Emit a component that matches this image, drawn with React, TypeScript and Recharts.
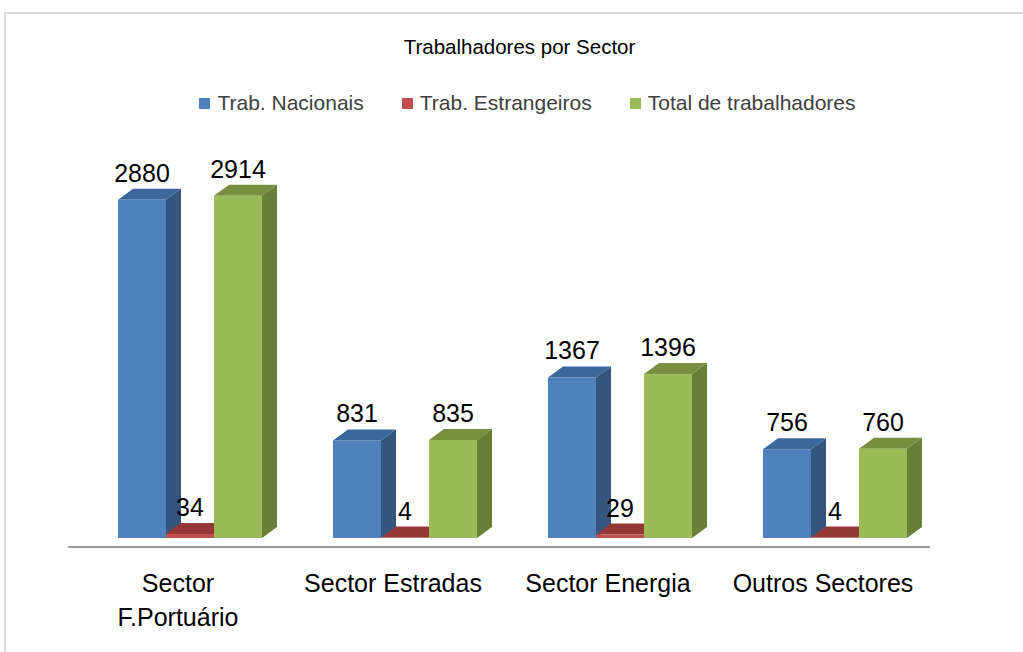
import React from "react";
import { BarChart, Bar, XAxis, YAxis, Legend, LabelList, ReferenceLine } from "recharts";

const categories = ["Sector F.Portuário", "Sector Estradas", "Sector Energia", "Outros Sectores"];
const nacionais = [2880, 831, 1367, 756];
const estrangeiros = [34, 4, 29, 4];
const total = [2914, 835, 1396, 760];
const seriesNames = ["Trab. Nacionais", "Trab. Estrangeiros", "Total de trabalhadores"];

const data = categories.map((c, i) => ({
  name: c,
  nac: nacionais[i],
  est: estrangeiros[i],
  tot: total[i],
}));

const FONT = "'Liberation Sans', Arial, sans-serif";
const DX = 15;
const DY = 11;

const make3D = (front: string, side: string, top: string) => (props: any) => {
  const { x, y, width, height } = props;
  if (x == null || width == null) return <g />;
  const h = Math.max(height || 0, 0);
  const x2 = x + width;
  const yb = y + h;
  return (
    <g>
      <polygon points={`${x},${y} ${x + DX},${y - DY} ${x2 + DX},${y - DY} ${x2},${y}`} fill={top} />
      <polygon points={`${x2},${y} ${x2 + DX},${y - DY} ${x2 + DX},${yb - DY} ${x2},${yb}`} fill={side} />
      <rect x={x} y={y} width={width} height={h} fill={front} />
    </g>
  );
};

const splitLabel = (s: string): string[] => {
  if (s.length <= 16) return [s];
  const i = s.indexOf(" ");
  return i > 0 ? [s.slice(0, i), s.slice(i + 1)] : [s];
};

const CatTick = (props: any) => {
  const { x, y, payload } = props;
  const lines = splitLabel(String(payload.value));
  return (
    <text x={x - 12} y={y + 54} textAnchor="middle" fill="#000" fontFamily={FONT} fontSize={25}>
      {lines.map((l, i) => (
        <tspan key={i} x={x - 12} dy={i === 0 ? 0 : 34}>
          {l}
        </tspan>
      ))}
    </text>
  );
};

const LegendContent = (props: any) => {
  const payload = [...(props.payload || [])].sort(
    (a: any, b: any) => seriesNames.indexOf(a.value) - seriesNames.indexOf(b.value)
  );
  return (
    <div style={{ display: "flex", justifyContent: "center", alignItems: "center", paddingLeft: 32, fontFamily: FONT, fontSize: 21, color: "#404040" }}>
      {payload.map((e: any, i: number) => (
        <div key={i} style={{ display: "flex", alignItems: "center", marginRight: i < 2 ? 38 : 0 }}>
          <div style={{ width: 11, height: 11, background: e.color, marginRight: 7 }} />
          <span>{e.value}</span>
        </div>
      ))}
    </div>
  );
};

const labelStyle = { fontFamily: FONT, fontSize: 25, fill: "#000" };

export default function App() {
  return (
    <div style={{ position: "fixed", left: 0, top: 0, width: 1023, height: 652, overflow: "hidden", background: "#fff" }}>
      <div style={{ position: "absolute", left: 4, top: 12, width: 1100, height: 700, border: "2px solid #d9d9d9", boxSizing: "border-box" }} />
      <div style={{ position: "absolute", left: 8, top: 35, width: 1023, textAlign: "center", fontFamily: FONT, fontSize: 20.5, color: "#000" }}>
        Trabalhadores por Sector
      </div>
      <div style={{ position: "absolute", left: 0, top: 0 }}>
        <BarChart
          width={1023}
          height={652}
          data={data}
          margin={{ top: 127, right: 80.5, left: 82.5, bottom: 34 }}
          barCategoryGap={35.5}
          barGap={0}
        >
          <XAxis
            dataKey="name"
            height={80}
            axisLine={false}
            tickLine={false}
            tickSize={0}
            tickMargin={0}
            interval={0}
            tick={<CatTick />}
          />
          <YAxis hide domain={[0, 3500]} />
          <ReferenceLine
            y={0}
            shape={(p: any) => (
              <line x1={p.x1 - 14.5} y1={p.y1 + 9} x2={p.x2 - 12.5} y2={p.y2 + 9} stroke="#9a9a9a" strokeWidth={2} />
            )}
          />
          <Legend verticalAlign="middle" layout="horizontal" wrapperStyle={{ top: 91, left: 0, width: 1023 }} content={<LegendContent />} />
          <Bar dataKey="nac" name={seriesNames[0]} fill="#4F81BD" legendType="square" isAnimationActive={false} shape={make3D("#4F81BD", "#34557E", "#3C679B")}>
            <LabelList dataKey="nac" position="top" offset={18} style={labelStyle} />
          </Bar>
          <Bar dataKey="est" name={seriesNames[1]} fill="#C0504D" legendType="square" isAnimationActive={false} shape={make3D("#C0504D", "#8C3836", "#943835")}>
            <LabelList dataKey="est" position="top" offset={18} style={labelStyle} />
          </Bar>
          <Bar dataKey="tot" name={seriesNames[2]} fill="#9BBB59" legendType="square" isAnimationActive={false} shape={make3D("#9BBB59", "#687F38", "#778F3F")}>
            <LabelList dataKey="tot" position="top" offset={18} style={labelStyle} />
          </Bar>
        </BarChart>
      </div>
    </div>
  );
}
